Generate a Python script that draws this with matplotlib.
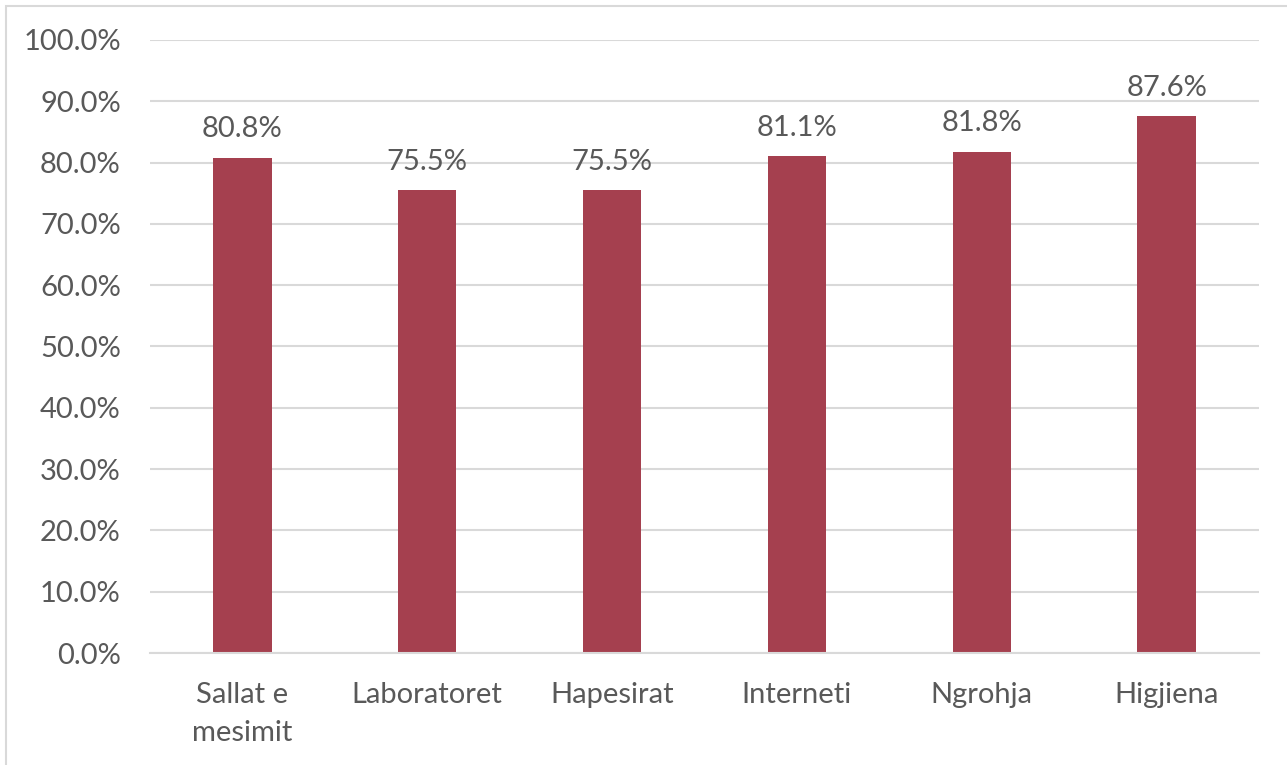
import matplotlib
matplotlib.use("Agg")
import matplotlib.pyplot as plt
from matplotlib.patches import Rectangle
from matplotlib.ticker import FuncFormatter, MultipleLocator

categories = ["Sallat e\nmesimit", "Laboratoret", "Hapesirat", "Interneti", "Ngrohja", "Higjiena"]
values = [80.8, 75.5, 75.5, 81.1, 81.8, 87.6]

plt.rcParams['font.family'] = ['Lato', 'DejaVu Sans']
txt = '#595959'
bar_color = '#A5404F'
fs = 21

fig = plt.figure(figsize=(12.87, 7.65), dpi=100)
ax = fig.add_axes([150/1287, 1-653/765, (1259-150)/1287, (653-40)/765])

x = range(len(categories))
bars = ax.bar(x, values, width=0.315, color=bar_color, zorder=3)
for xi, v in zip(x, values):
    ax.annotate(f"{v:.1f}%", (xi, v), xytext=(0, 11), textcoords='offset points',
                ha='center', va='bottom', fontsize=fs, color=txt)

ax.set_xlim(-0.5, len(categories) - 0.5)
ax.set_ylim(0, 100)
ax.yaxis.set_major_locator(MultipleLocator(10))
ax.yaxis.set_major_formatter(FuncFormatter(lambda v, p: f"{v:.1f}%"))
ax.set_xticks(list(x))
ax.set_xticklabels(categories, fontsize=fs, color=txt, linespacing=1.55)
ax.tick_params(axis='y', labelsize=fs, labelcolor=txt, length=0, pad=21)
ax.tick_params(axis='x', length=0, pad=21)
ax.grid(axis='y', color='#D9D9D9', linewidth=1.5, zorder=0)
for s in ['left', 'right', 'top']:
    ax.spines[s].set_visible(False)
ax.spines['bottom'].set_color('#D9D9D9')
ax.spines['bottom'].set_linewidth(1.5)
ax.spines['bottom'].set_zorder(4)

fig.patches.append(Rectangle((6/1287, -0.05), 1.2, 1 - 6/765 + 0.05, transform=fig.transFigure,
                             fill=False, edgecolor='#D9D9D9', linewidth=1.5))

fig.savefig("out.png", dpi=100)
